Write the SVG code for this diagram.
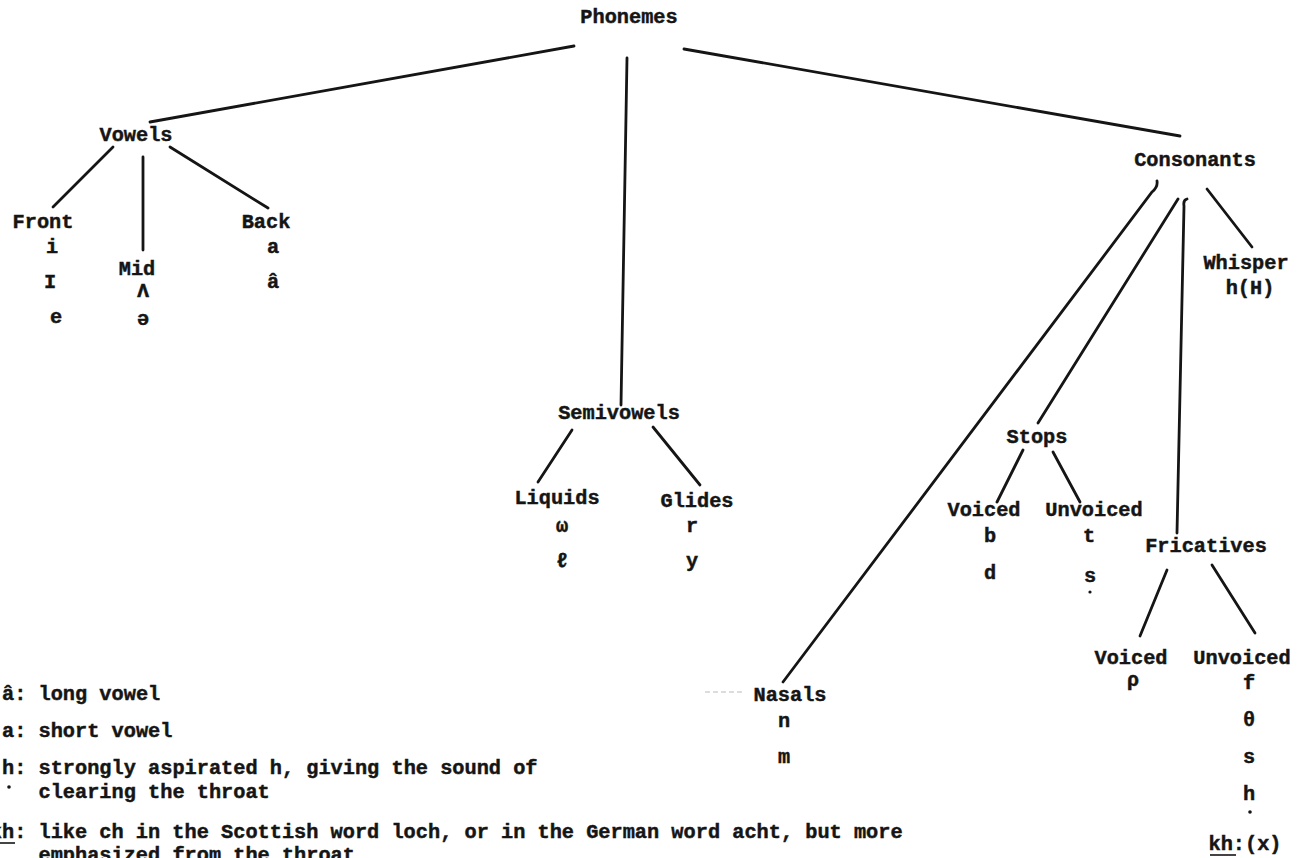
<svg xmlns="http://www.w3.org/2000/svg" width="1297" height="858" viewBox="0 0 1297 858">
<style>
text{font-family:"Liberation Mono","DejaVu Sans Mono",monospace;font-weight:bold;font-size:20.3px;fill:#151515;stroke:#151515;stroke-width:0.45}
.c{text-anchor:middle}
.l{stroke:#151515;stroke-width:2.8;stroke-linecap:round;fill:none}
.dot{fill:#151515}
</style>
<rect width="1297" height="858" fill="#fff"/>
<g id="connectors">
<line class="l" x1="574" y1="46" x2="150" y2="122"/>
<line class="l" x1="627" y1="58" x2="621" y2="405"/>
<line class="l" x1="684" y1="49" x2="1180" y2="136"/>
<line class="l" x1="113" y1="147" x2="53" y2="207"/>
<line class="l" x1="143" y1="157" x2="143" y2="250"/>
<line class="l" x1="170" y1="147" x2="268" y2="208"/>
<line class="l" x1="572" y1="430" x2="538" y2="482"/>
<line class="l" x1="653" y1="427" x2="700" y2="485"/>
<path class="l" d="M1157,181 Q1158,187 1152,192 L783,682"/>
<line class="l" x1="1178" y1="199" x2="1038" y2="423"/>
<path class="l" d="M1187,199 Q1183,200 1184,206 L1177,533"/>
<line class="l" x1="1207" y1="189" x2="1252" y2="247"/>
<line class="l" x1="1023" y1="450" x2="997" y2="502"/>
<line class="l" x1="1053" y1="452" x2="1080" y2="502"/>
<line class="l" x1="1167" y1="570" x2="1140" y2="636"/>
<line class="l" x1="1212" y1="565" x2="1255" y2="633"/>
<line x1="705" y1="692" x2="743" y2="692" stroke="#bbb" stroke-width="1" stroke-dasharray="5,3"/>
</g>
<g id="phonemes"><text class="c" x="629" y="23">Phonemes</text></g>
<g id="vowels"><text class="c" x="136" y="141">Vowels</text></g>
<g id="front">
<text class="c" x="43" y="228">Front</text>
<text class="c" x="52" y="253">i</text>
<text class="c" x="50" y="288">I</text>
<text class="c" x="56" y="323">e</text>
</g>
<g id="mid">
<text class="c" x="137" y="275">Mid</text>
<text class="c" x="143" y="297">Λ</text>
<text class="c" x="143" y="325">ə</text>
</g>
<g id="back">
<text class="c" x="266" y="228">Back</text>
<text class="c" x="273" y="253">a</text>
<text class="c" x="273" y="288">â</text>
</g>
<g id="semivowels"><text class="c" x="619" y="419">Semivowels</text></g>
<g id="liquids">
<text class="c" x="557" y="504">Liquids</text>
<text class="c" x="562" y="532">ω</text>
<text class="c" x="562" y="567">ℓ</text>
</g>
<g id="glides">
<text class="c" x="697" y="507">Glides</text>
<text class="c" x="692" y="532">r</text>
<text class="c" x="692" y="567">y</text>
</g>
<g id="consonants"><text class="c" x="1195" y="166">Consonants</text></g>
<g id="whisper">
<text class="c" x="1246" y="269">Whisper</text>
<text class="c" x="1250" y="294">h(H)</text>
</g>
<g id="stops"><text class="c" x="1037" y="443">Stops</text></g>
<g id="stops-voiced">
<text class="c" x="984" y="516">Voiced</text>
<text class="c" x="990" y="542">b</text>
<text class="c" x="990" y="579">d</text>
</g>
<g id="stops-unvoiced">
<text class="c" x="1094" y="516">Unvoiced</text>
<text class="c" x="1089" y="542">t</text>
<text class="c" x="1090" y="582">s</text>
<circle class="dot" cx="1090" cy="592" r="1.6"/>
</g>
<g id="fricatives"><text class="c" x="1206" y="552">Fricatives</text></g>
<g id="fric-voiced">
<text class="c" x="1131" y="664">Voiced</text>
<text class="c" x="1133" y="686">ρ</text>
</g>
<g id="fric-unvoiced">
<text class="c" x="1242" y="664">Unvoiced</text>
<text class="c" x="1249" y="689">f</text>
<text class="c" x="1249" y="726">θ</text>
<text class="c" x="1249" y="763">s</text>
<text class="c" x="1249" y="800">h</text>
<circle class="dot" cx="1250" cy="812" r="1.8"/>
<text class="c" x="1245" y="850">kh:(x)</text>
<line x1="1210" y1="855" x2="1236" y2="855" stroke="#151515" stroke-width="1.6"/>
</g>
<g id="nasals">
<text class="c" x="790" y="701">Nasals</text>
<text class="c" x="784" y="727">n</text>
<text class="c" x="784" y="763">m</text>
</g>
<g id="legend">
<text x="2" y="700">â: long vowel</text>
<text x="2" y="737">a: short vowel</text>
<text x="2" y="774">h: strongly aspirated h, giving the sound of</text>
<circle class="dot" cx="9" cy="787" r="1.8"/>
<text x="38.5" y="798">clearing the throat</text>
<text x="-10.2" y="838">kh: like ch in the Scottish word loch, or in the German word acht, but more</text>
<line x1="0" y1="843" x2="15" y2="843" stroke="#151515" stroke-width="1.6"/>
<text x="38.5" y="861">emphasized from the throat</text>
</g>
</svg>
